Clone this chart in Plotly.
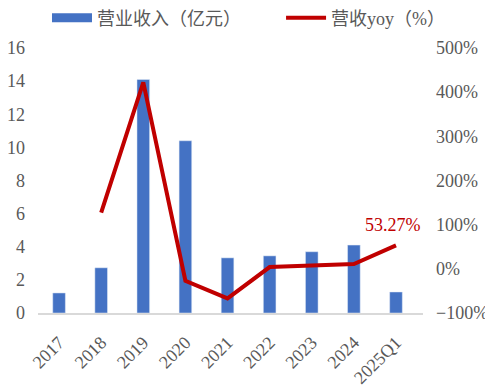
import plotly.graph_objects as go

categories = ["2017", "2018", "2019", "2020", "2021", "2022", "2023", "2024", "2025Q1"]
revenue = [1.21, 2.73, 14.1, 10.4, 3.33, 3.45, 3.7, 4.1, 1.27]
yoy = [None, 1.27, 4.22, -0.27, -0.67, 0.04, 0.08, 0.11, 0.5327]
left_ticks = [0, 2, 4, 6, 8, 10, 12, 14, 16]
right_ticks = [-1, 0, 1, 2, 3, 4, 5]

BLUE = "#4472C4"
RED = "#C00000"
GRAY = "#595959"
FONT = "Liberation Serif, Noto Sans CJK SC, serif"

fig = go.Figure()
fig.add_trace(go.Bar(x=categories, y=revenue, marker_color=BLUE, width=0.3,
                     showlegend=False, yaxis="y"))
fig.add_trace(go.Scatter(x=[None], y=[None], mode="lines", name="营业收入（亿元）",
                         line=dict(color=BLUE, width=9), yaxis="y", legend="legend"))
fig.add_trace(go.Scatter(x=categories, y=yoy, mode="lines", name="营收yoy（%）",
                         line=dict(color=RED, width=4), yaxis="y2", legend="legend2"))

fig.add_annotation(x=categories[-1], y=yoy[-1], yref="y2", text="53.27%",
                   showarrow=False, yshift=20, xshift=-3,
                   font=dict(color=RED, size=18, family=FONT))

legend_common = dict(orientation="h", xanchor="left", y=0.9736, yanchor="middle",
                     yref="container", xref="container", font=dict(size=18),
                     itemwidth=40, bgcolor="rgba(0,0,0,0)")

fig.update_layout(
    width=485, height=379,
    margin=dict(l=30, r=70, t=40, b=74, autoexpand=False),
    plot_bgcolor="white", paper_bgcolor="white",
    font=dict(family=FONT, size=18, color=GRAY),
    xaxis=dict(type="category", tickangle=-45, showline=True, linecolor="#D9D9D9",
               linewidth=2, ticks="", showgrid=False, automargin=False,
               ticklabelstandoff=10),
    yaxis=dict(range=[0, 16], tickvals=left_ticks, showgrid=False, zeroline=False,
               ticks="", showline=False, automargin=False, ticklabelstandoff=12),
    yaxis2=dict(range=[-1, 5], tickvals=right_ticks, tickformat=".0%", overlaying="y",
                side="right", showgrid=False, zeroline=False, ticks="", showline=False,
                automargin=False, ticklabelstandoff=12),
    legend=dict(x=0.0804, **legend_common),
    legend2=dict(x=0.563, **legend_common),
    bargap=0.7,
)

fig.write_html("out.html")
